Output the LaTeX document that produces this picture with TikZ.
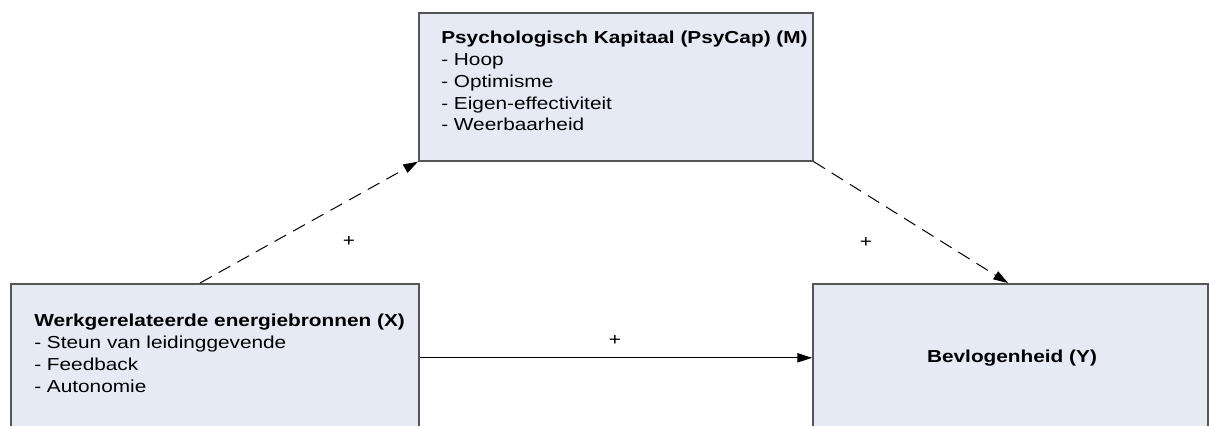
\documentclass[tikz,border=0pt]{standalone}
\usepackage{fontspec}
\setmainfont{Liberation Sans}[FakeStretch=1.2]
\usetikzlibrary{arrows.meta}
\definecolor{boxfill}{HTML}{E6EAF5}
\definecolor{boxline}{HTML}{555555}
\tikzset{
  varbox/.style={draw=boxline,line width=1.2pt,fill=boxfill,rectangle,anchor=north west,inner sep=0pt,minimum height=111pt},
  itemtext/.style={anchor=north west,align=left,inner sep=0pt},
  effect/.style={-{Triangle[length=11pt,width=7pt]},line width=0.75pt},
  indirect/.style={effect,dash pattern=on 10pt off 6pt},
  sign/.style={inner sep=0pt}
}

\begin{document}
\begin{tikzpicture}[x=0.75pt,y=-0.75pt,font=\fontsize{13pt}{16.3pt}\selectfont]
\useasboundingbox (0,0) rectangle (1209,425);
\clip (0,0) rectangle (1209,425);
\node[varbox,minimum width=295.5pt] (mbox) at (418,12) {};
\node[varbox,minimum width=306pt] (xbox) at (10,283) {};
\node[varbox,minimum width=296.25pt] (ybox) at (812,283) {};
\node[itemtext] (mtext) at (441,31) {\textbf{Psychologisch Kapitaal (PsyCap) (M)}\\- Hoop\\- Optimisme\\- Eigen-effectiviteit\\- Weerbaarheid};
\node[itemtext] (xtext) at (34,314) {\textbf{Werkgerelateerde energiebronnen (X)}\\- Steun van leidinggevende\\- Feedback\\- Autonomie};
\node (ytext) at (1012,358) {\textbf{Bevlogenheid (Y)}};
\draw[indirect] ([xshift=142.5pt]xbox.north west) -- (mbox.south west);
\draw[indirect] (mbox.south east) -- ([xshift=147pt]ybox.north west);
\draw[effect] (xbox.east) -- (ybox.west);
\node[sign] (plusxm) at (349,241) {+};
\node[sign] (plusmy) at (866,242) {+};
\node[sign] (plusxy) at (615,340) {+};
\end{tikzpicture}
\end{document}
